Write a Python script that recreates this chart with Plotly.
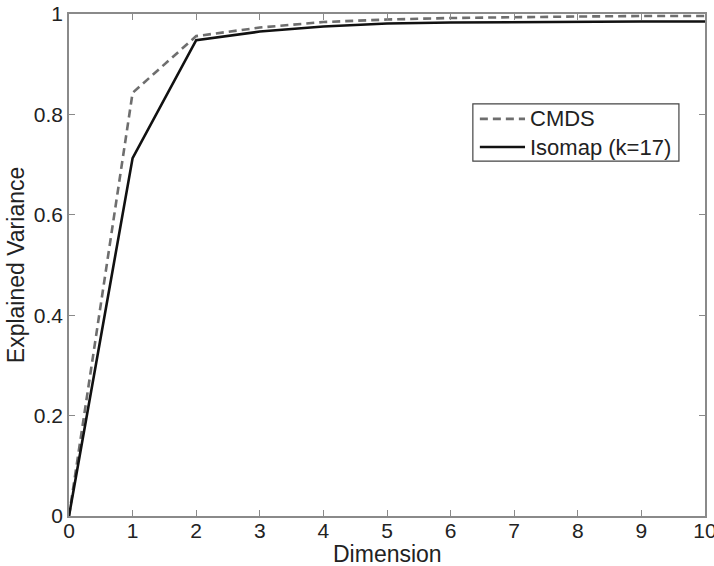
import plotly.graph_objects as go

# Explained variance versus embedding dimension
dimension = [0, 1, 2, 3, 4, 5, 6, 7, 8, 9, 10]
cmds_variance = [0.0, 0.843, 0.956, 0.973, 0.984, 0.989, 0.992, 0.994, 0.995, 0.996, 0.996]
isomap_variance = [0.0, 0.713, 0.948, 0.965, 0.975, 0.981, 0.983, 0.984, 0.985, 0.985, 0.985]

series_names = ["CMDS", "Isomap (k=17)"]
x_title = "Dimension"
y_title = "Explained Variance"

x_ticks = [0, 1, 2, 3, 4, 5, 6, 7, 8, 9, 10]
y_ticks = [0, 0.2, 0.4, 0.6, 0.8, 1]
y_tick_text = ["0", "0.2", "0.4", "0.6", "0.8", "1"]

FONT = "Liberation Sans, Arial, sans-serif"
TEXT_COLOR = "#222222"
AXIS_GRAY = "#8a8a8a"

line_styles = [
    dict(color="#6e6e6e", width=2.6, dash="8px,5px"),
    dict(color="#111111", width=2.6),
]

fig = go.Figure()
for name, values, style in zip(series_names, [cmds_variance, isomap_variance], line_styles):
    fig.add_trace(go.Scatter(x=dimension, y=values, mode="lines", name=name,
                             line=style, showlegend=False))

axis_common = dict(
    showgrid=False, zeroline=False, showline=True, linecolor=AXIS_GRAY,
    linewidth=1.5, mirror="ticks", ticks="inside", ticklen=6,
    tickcolor=AXIS_GRAY, tickwidth=1.2, ticklabeloverflow="allow",
    automargin=False,
    tickfont=dict(family=FONT, size=21, color=TEXT_COLOR),
)

fig.update_xaxes(range=[0, 10], tickvals=x_ticks, ticklabelstandoff=-5, **axis_common)
fig.update_yaxes(range=[0, 1], tickvals=y_ticks, ticktext=y_tick_text, **axis_common)

# Axis titles placed relative to the plotting area
title_font = dict(family=FONT, size=23, color=TEXT_COLOR)
fig.add_annotation(xref="paper", yref="paper", x=0.5, y=-0.075,
                   xanchor="center", yanchor="middle", text=x_title,
                   showarrow=False, font=title_font, borderpad=0)
fig.add_annotation(xref="paper", yref="paper", x=-0.083, y=0.5,
                   xanchor="center", yanchor="middle", text=y_title,
                   textangle=-90, showarrow=False, font=title_font)

# Boxed legend in the upper right of the axes (paper coordinates)
box_x0, box_x1, box_y0, box_y1 = 0.635, 0.959, 0.707, 0.821
sample_x0, sample_x1, label_x = 0.646, 0.717, 0.722
row_y = [0.791, 0.735]

fig.add_shape(type="rect", xref="paper", yref="paper",
              x0=box_x0, x1=box_x1, y0=box_y0, y1=box_y1,
              line=dict(color="#444444", width=1.2), fillcolor="white")
for name, style, ry in zip(series_names, line_styles, row_y):
    fig.add_shape(type="line", xref="paper", yref="paper",
                  x0=sample_x0, x1=sample_x1, y0=ry, y1=ry, line=style)
    fig.add_annotation(xref="paper", yref="paper", x=label_x, y=ry,
                       xanchor="left", yanchor="middle", text=name,
                       showarrow=False,
                       font=dict(family=FONT, size=22, color=TEXT_COLOR))

fig.update_layout(
    width=714, height=566,
    margin=dict(l=69, r=9, t=14, b=50),
    paper_bgcolor="white", plot_bgcolor="white",
    showlegend=False,
)

fig.write_html("out.html")
